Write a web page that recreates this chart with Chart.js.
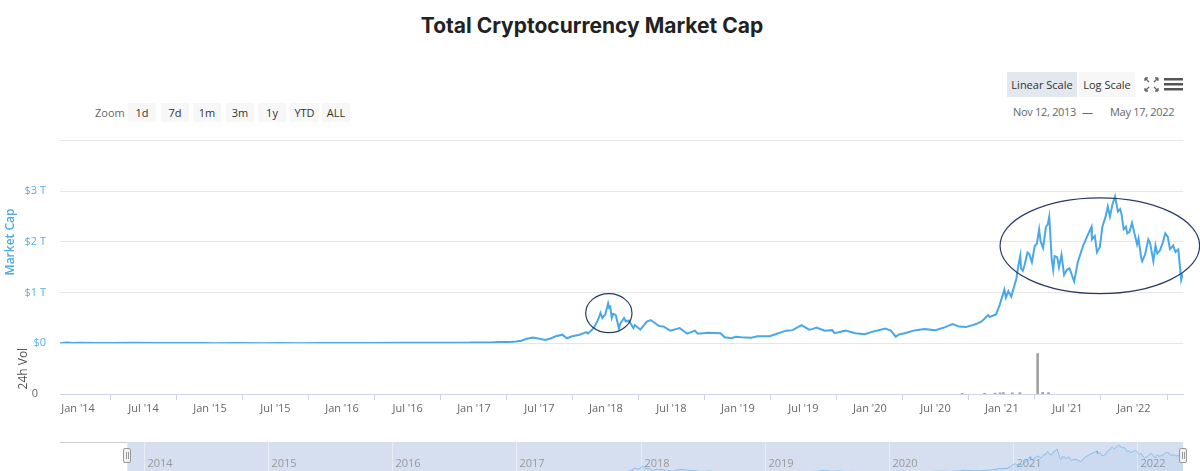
<!DOCTYPE html>
<html>
<head>
<meta charset="utf-8">
<script src="https://cdn.jsdelivr.net/npm/chart.js@4.4.0/dist/chart.umd.min.js"></script>
<style>
  body { margin: 0; width: 1200px; height: 471px; overflow: hidden; background: #fff; position: relative;
         font-family: "Open Sans", "DejaVu Sans", sans-serif; }
  #title { position: absolute; left: 0; width: 1184px; top: 13px; text-align: center;
           font: 700 21px Inter, "Open Sans", sans-serif; color: #222; }
  .lbl { position: absolute; font-size: 11px; color: #666; line-height: 19px; }
  .btn { position: absolute; height: 19px; line-height: 19px; font-size: 11px; color: #333;
         background: #f7f7f7; text-align: center; }
  .sbtn { position: absolute; top: 72px; height: 25px; line-height: 25px; font-size: 11px; color: #333;
          background: #f7f7f7; text-align: center; }
  canvas { position: absolute; left: 0; }
</style>
</head>
<body>
<div id="title">Total Cryptocurrency Market Cap</div>

<div class="lbl" style="left:95px; top:103px;">Zoom</div>
<div class="btn" style="left:128px; top:103px; width:28px;">1d</div>
<div class="btn" style="left:161px; top:103px; width:28px;">7d</div>
<div class="btn" style="left:193px; top:103px; width:28px;">1m</div>
<div class="btn" style="left:226px; top:103px; width:28px;">3m</div>
<div class="btn" style="left:258px; top:103px; width:28px;">1y</div>
<div class="btn" style="left:290px; top:103px; width:29px;">YTD</div>
<div class="btn" style="left:322px; top:103px; width:28px;">ALL</div>

<div class="sbtn" style="left:1007px; width:70px; background:#e3e7ee;">Linear Scale</div>
<div class="sbtn" style="left:1079px; width:56px;">Log Scale</div>
<svg style="position:absolute; left:1144px; top:77px;" width="15" height="15" viewBox="0 0 15 15">
  <g stroke="#666" stroke-width="1.3" fill="none">
    <path d="M1 1 L5 5 M1 1 L1 4 M1 1 L4 1"/>
    <path d="M14 1 L10 5 M14 1 L14 4 M14 1 L11 1"/>
    <path d="M1 14 L5 10 M1 14 L1 11 M1 14 L4 14"/>
    <path d="M14 14 L10 10 M14 14 L14 11 M14 14 L11 14"/>
  </g>
</svg>
<svg style="position:absolute; left:1164px; top:77px;" width="19" height="15">
  <g fill="#555">
    <rect x="0" y="1" width="19" height="2.5"/>
    <rect x="0" y="6" width="19" height="2.5"/>
    <rect x="0" y="11" width="19" height="2.5"/>
  </g>
</svg>
<div class="lbl" style="left:1013px; top:102px; letter-spacing:-0.3px;">Nov 12, 2013</div>
<div class="lbl" style="left:1082px; top:102px;">—</div>
<div class="lbl" style="left:1110px; top:102px; letter-spacing:-0.3px;">May 17, 2022</div>

<canvas id="main" width="1200" height="300" style="top:120px;"></canvas>
<canvas id="nav" width="1200" height="32" style="top:442px;"></canvas>

<script>
// total market cap, in trillions of USD
const capDates = [
  '2013-04-28','2013-07-01','2013-10-01','2013-11-12','2013-11-30','2013-12-18',
  '2014-01-05','2014-02-25','2014-04-10','2014-06-05','2014-08-15','2014-10-15','2014-12-15',
  '2015-01-15','2015-03-15','2015-06-01','2015-07-10','2015-09-01','2015-11-05',
  '2016-01-15','2016-03-15','2016-06-17','2016-08-05','2016-10-15','2016-12-20',
  '2017-01-04','2017-02-15','2017-03-10','2017-04-10','2017-04-28','2017-05-12','2017-05-25',
  '2017-06-12','2017-06-25','2017-07-16','2017-08-01','2017-08-15','2017-09-02','2017-09-15',
  '2017-09-30','2017-10-20','2017-11-08','2017-11-12','2017-11-28','2017-12-07','2017-12-12',
  '2017-12-17','2017-12-22','2017-12-30',
  '2018-01-07','2018-01-10','2018-01-13','2018-01-17','2018-01-21','2018-01-28','2018-02-06',
  '2018-02-09','2018-02-20','2018-02-25','2018-03-05','2018-03-18','2018-03-22','2018-04-06',
  '2018-04-24','2018-05-05','2018-05-28','2018-06-10','2018-06-28','2018-07-24','2018-08-14',
  '2018-09-04','2018-09-12','2018-10-10','2018-11-14','2018-11-25','2018-12-14','2018-12-26',
  '2019-01-10','2019-02-07','2019-02-24','2019-03-30','2019-04-15','2019-05-14','2019-06-01',
  '2019-06-26','2019-07-17','2019-07-26','2019-08-06','2019-08-29','2019-09-19','2019-09-25',
  '2019-10-26','2019-11-22','2019-12-17',
  '2020-01-14','2020-02-13','2020-02-28','2020-03-13','2020-03-20','2020-04-06','2020-05-07',
  '2020-06-01','2020-07-01','2020-07-28','2020-08-17','2020-09-05','2020-09-23','2020-10-08',
  '2020-10-21','2020-11-06','2020-11-24','2020-11-28','2020-12-16','2020-12-26',
  '2021-01-08','2021-01-12','2021-01-19','2021-01-27','2021-02-05','2021-02-10','2021-02-16',
  '2021-02-21','2021-02-23','2021-02-28','2021-03-05','2021-03-13','2021-03-18','2021-03-25',
  '2021-04-02','2021-04-08','2021-04-14','2021-04-18','2021-04-25','2021-05-03','2021-05-08',
  '2021-05-12','2021-05-19','2021-05-23','2021-05-27','2021-06-03','2021-06-08','2021-06-15',
  '2021-06-22','2021-06-30','2021-07-07','2021-07-20','2021-07-30','2021-08-07','2021-08-14',
  '2021-08-23','2021-09-06','2021-09-07','2021-09-15','2021-09-21','2021-09-29','2021-10-06',
  '2021-10-15','2021-10-21','2021-10-27','2021-11-03','2021-11-10','2021-11-18','2021-11-24',
  '2021-11-28','2021-12-04','2021-12-10','2021-12-14','2021-12-20','2021-12-27',
  '2022-01-05','2022-01-10','2022-01-14','2022-01-21','2022-01-24','2022-02-01','2022-02-10',
  '2022-02-15','2022-02-24','2022-03-02','2022-03-07','2022-03-14','2022-03-22','2022-03-29',
  '2022-04-05','2022-04-11','2022-04-20','2022-04-26','2022-05-04','2022-05-09','2022-05-12',
  '2022-05-15','2022-05-17'
];
const capValues = [
  0.0015,0.0012,0.0017,0.0035,0.014,0.007,
  0.012,0.008,0.006,0.009,0.007,0.005,0.0045,
  0.0025,0.004,0.0035,0.0045,0.0035,0.006,
  0.006,0.008,0.012,0.010,0.011,0.014,
  0.018,0.017,0.024,0.026,0.035,0.05,0.085,
  0.115,0.10,0.065,0.095,0.14,0.17,0.10,
  0.14,0.17,0.22,0.19,0.30,0.42,0.50,
  0.60,0.50,0.57,
  0.79,0.70,0.72,0.50,0.58,0.56,0.29,
  0.38,0.50,0.43,0.45,0.30,0.36,0.27,
  0.43,0.46,0.34,0.33,0.25,0.30,0.19,
  0.25,0.19,0.21,0.20,0.12,0.10,0.13,
  0.12,0.11,0.14,0.14,0.18,0.25,0.26,
  0.36,0.27,0.28,0.31,0.25,0.26,0.20,
  0.25,0.20,0.18,
  0.24,0.29,0.25,0.13,0.17,0.20,0.26,
  0.28,0.26,0.32,0.38,0.33,0.32,0.35,
  0.38,0.43,0.56,0.52,0.57,0.76,
  1.06,0.90,1.03,0.92,1.15,1.27,1.55,
  1.73,1.48,1.43,1.55,1.79,1.76,1.60,
  1.92,1.97,2.25,2.02,1.88,2.30,2.35,
  2.50,1.65,1.45,1.72,1.70,1.50,1.75,
  1.35,1.45,1.48,1.22,1.60,1.78,1.93,
  2.08,2.30,2.05,2.12,1.80,1.90,2.30,
  2.50,2.70,2.50,2.75,2.90,2.60,2.65,
  2.55,2.25,2.30,2.17,2.20,2.38,
  2.10,1.95,2.07,1.70,1.62,1.75,2.05,
  1.98,1.62,1.93,1.77,1.83,1.98,2.17,
  2.10,1.86,1.93,1.80,1.85,1.48,1.25,
  1.33,1.30
];

// 24h volume, billions of USD (only the visible bars)
const volDates = ['2020-09-13','2020-11-14','2020-12-13','2020-12-27','2021-01-05','2021-01-30','2021-02-20','2021-04-10','2021-04-24','2021-05-10'];
const volValues = [12, 15, 20, 25, 30, 22, 28, 800, 35, 30];

const capTicks = [0, 1, 2, 3, 4];
const capTickLabels = ['$0', '$1 T', '$2 T', '$3 T', ''];

const xTickDates = ['2014-01-01','2014-07-01','2015-01-01','2015-07-01','2016-01-01','2016-07-01',
  '2017-01-01','2017-07-01','2018-01-01','2018-07-01','2019-01-01','2019-07-01','2020-01-01',
  '2020-07-01','2021-01-01','2021-07-01','2022-01-01'];
const xTickLabels = ["Jan '14","Jul '14","Jan '15","Jul '15","Jan '16","Jul '16","Jan '17","Jul '17",
  "Jan '18","Jul '18","Jan '19","Jul '19","Jan '20","Jul '20","Jan '21","Jul '21","Jan '22"];

const rangeStart = '2013-11-12';
const rangeEnd = '2022-05-17';
const navStart = '2013-04-28';

const navYearDates = ['2014-01-01','2015-01-01','2016-01-01','2017-01-01','2018-01-01',
  '2019-01-01','2020-01-01','2021-01-01','2022-01-01'];
const navYearLabels = ['2014','2015','2016','2017','2018','2019','2020','2021','2022'];

// hand-drawn circles, in data units
const circles = [
  { from: '2017-11-06', to: '2018-03-14', low: 0.21, high: 0.98 },
  { from: '2020-12-27', to: '2022-07-02', low: 0.98, high: 2.87 }
];

function toYear(d) {
  const [y, m, day] = d.split('-').map(Number);
  const start = Date.UTC(y, 0, 1), end = Date.UTC(y + 1, 0, 1);
  return y + (Date.UTC(y, m - 1, day) - start) / (end - start);
}

Chart.defaults.font.family = '"Open Sans", "DejaVu Sans", sans-serif';
Chart.defaults.font.size = 11;

const capPoints = capDates.map((d, i) => ({ x: toYear(d), y: capValues[i] }));
const volPoints = volDates.map((d, i) => ({ x: toYear(d), y: volValues[i] }));

const circlePlugin = {
  id: 'circles',
  afterDatasetsDraw(chart) {
    const { ctx, scales: { x, y } } = chart;
    ctx.save();
    ctx.strokeStyle = '#2b3a67';
    ctx.lineWidth = 1.2;
    circles.forEach(c => {
      const x0 = x.getPixelForValue(toYear(c.from)), x1 = x.getPixelForValue(toYear(c.to));
      const y0 = y.getPixelForValue(c.high), y1 = y.getPixelForValue(c.low);
      ctx.beginPath();
      ctx.ellipse((x0 + x1) / 2, (y0 + y1) / 2, (x1 - x0) / 2, (y1 - y0) / 2, 0, 0, Math.PI * 2);
      ctx.stroke();
    });
    ctx.restore();
  }
};

new Chart(document.getElementById('main'), {
  type: 'line',
  data: {
    datasets: [
      {
        data: capPoints,
        yAxisID: 'y',
        borderColor: '#4aa8e8',
        borderWidth: 2,
        pointRadius: 0,
        tension: 0
      },
      {
        type: 'bar',
        data: volPoints,
        yAxisID: 'yVol',
        backgroundColor: '#a3a3a3',
        barThickness: 2,
        grouped: false
      }
    ]
  },
  options: {
    responsive: false,
    animation: false,
    devicePixelRatio: 1,
    layout: { padding: { top: 14, right: 17, left: 0, bottom: 0 } },
    plugins: { legend: { display: false }, tooltip: { enabled: false } },
    scales: {
      x: {
        type: 'linear',
        offset: false,
        min: toYear(rangeStart),
        max: toYear(rangeEnd),
        afterBuildTicks: s => { s.ticks = xTickDates.map(d => ({ value: toYear(d) })); },
        afterFit: s => { s.height = 26; },
        ticks: {
          autoSkip: false,
          maxRotation: 0,
          color: '#666',
          padding: 2,
          callback: (v, i) => xTickLabels[i]
        },
        grid: { drawOnChartArea: false, drawTicks: true, tickLength: 6, color: '#ccd6eb' },
        border: { display: true, color: '#ccd6eb' }
      },
      yVol: {
        position: 'left',
        stack: 'panes',
        stackWeight: 1,
        min: 0,
        max: 1000,
        afterBuildTicks: s => { s.ticks = [{ value: 0 }]; },
        afterFit: s => { s.width = 60; },
        ticks: { color: '#666', padding: 14, callback: () => '0' },
        grid: { display: false },
        border: { display: false },
        title: {
          display: true,
          text: '24h Vol',
          color: '#555',
          font: { size: 12 },
          padding: { top: 16, bottom: 0 }
        }
      },
      y: {
        position: 'left',
        stack: 'panes',
        stackWeight: 4,
        min: 0,
        max: 4,
        afterBuildTicks: s => { s.ticks = capTicks.map(v => ({ value: v })); },
        afterFit: s => { s.width = 60; },
        ticks: {
          color: '#5aaee3',
          padding: 14,
          callback: (v, i) => capTickLabels[i]
        },
        grid: { color: '#e6e6e6', drawTicks: false },
        border: { display: false },
        title: {
          display: true,
          text: 'Market Cap',
          color: '#4ea8e0',
          font: { size: 12, weight: '600' },
          padding: { top: 3, bottom: 0 }
        }
      }
    }
  },
  plugins: [circlePlugin]
});

// navigator strip
const navPlugin = {
  id: 'navigator',
  beforeDatasetsDraw(chart) {
    const { ctx, chartArea: a, scales: { x } } = chart;
    const m0 = x.getPixelForValue(toYear(rangeStart));
    const m1 = x.getPixelForValue(toYear(rangeEnd));
    ctx.save();
    ctx.fillStyle = '#d6dff0';
    ctx.fillRect(m0, a.top, m1 - m0, a.bottom - a.top);
    ctx.strokeStyle = '#cccccc';
    ctx.lineWidth = 1;
    ctx.beginPath();
    ctx.moveTo(a.left, a.top + 0.5);
    ctx.lineTo(m0, a.top + 0.5);
    ctx.stroke();
    ctx.strokeStyle = '#e9edf5';
    navYearDates.forEach((d, i) => {
      const px = Math.round(x.getPixelForValue(toYear(d))) + 0.5;
      ctx.beginPath();
      ctx.moveTo(px, a.top);
      ctx.lineTo(px, a.bottom);
      ctx.stroke();
      ctx.fillStyle = '#999';
      ctx.font = '11px "Open Sans", "DejaVu Sans", sans-serif';
      ctx.fillText(navYearLabels[i], px + 3, a.top + 25);
    });
    ctx.restore();
  },
  afterDraw(chart) {
    const { ctx, chartArea: a, scales: { x } } = chart;
    [rangeStart, rangeEnd].forEach(d => {
      const px = Math.round(x.getPixelForValue(toYear(d)));
      ctx.save();
      ctx.fillStyle = '#f2f2f2';
      ctx.strokeStyle = '#999';
      ctx.lineWidth = 1;
      ctx.beginPath();
      ctx.roundRect(px - 3.5, a.top + 6.5, 7, 14, 1.5);
      ctx.fill();
      ctx.stroke();
      ctx.beginPath();
      ctx.moveTo(px - 0.5, a.top + 10);
      ctx.lineTo(px - 0.5, a.top + 17);
      ctx.moveTo(px + 1.5, a.top + 10);
      ctx.lineTo(px + 1.5, a.top + 17);
      ctx.stroke();
      ctx.restore();
    });
  }
};

new Chart(document.getElementById('nav'), {
  type: 'line',
  data: {
    datasets: [{
      data: capPoints,
      borderColor: 'rgba(74,168,232,0.55)',
      backgroundColor: 'rgba(74,168,232,0.08)',
      borderWidth: 1,
      fill: 'origin',
      pointRadius: 0,
      tension: 0
    }]
  },
  options: {
    responsive: false,
    animation: false,
    devicePixelRatio: 1,
    layout: { padding: { left: 60, right: 17, top: 0, bottom: 0 } },
    plugins: { legend: { display: false }, tooltip: { enabled: false } },
    scales: {
      x: { type: 'linear', display: false, min: toYear(navStart), max: toYear(rangeEnd) },
      y: { display: false, min: 0, max: 3.2 }
    }
  },
  plugins: [navPlugin]
});
</script>
</body>
</html>
